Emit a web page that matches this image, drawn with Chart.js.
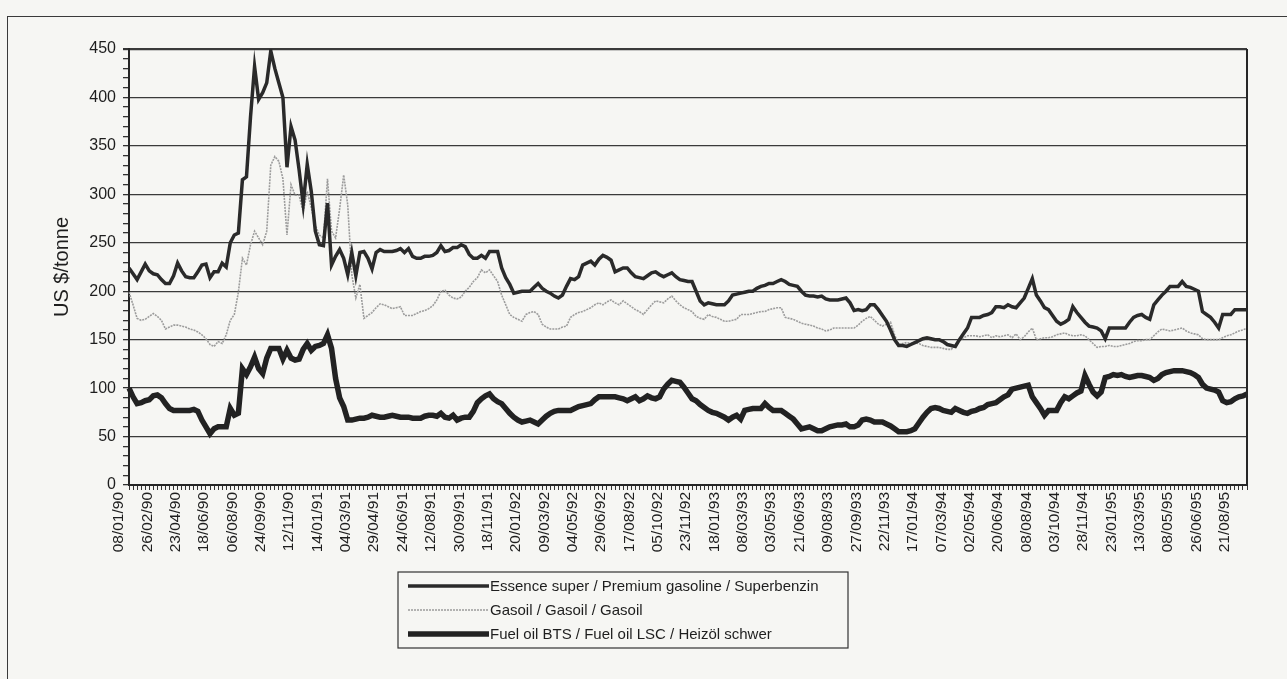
<!DOCTYPE html>
<html><head><meta charset="utf-8">
<script src="https://cdn.jsdelivr.net/npm/chart.js@4.4.1/dist/chart.umd.min.js"></script>
<style>
html,body{margin:0;padding:0;background:#f6f6f3;}
#wrap{position:relative;width:1287px;height:679px;overflow:hidden;}
#frame{position:absolute;left:7px;top:16px;width:1400px;height:800px;border-left:1.5px solid #3a3a3a;border-top:1.5px solid #3a3a3a;}
canvas{position:absolute;left:0;top:0;}
</style></head><body>
<div id="wrap"><div id="frame"></div><canvas id="c" width="1287" height="679"></canvas></div>
<script>
const tickLabels = ["08/01/90","26/02/90","23/04/90","18/06/90","06/08/90","24/09/90","12/11/90","14/01/91","04/03/91","29/04/91","24/06/91","12/08/91","30/09/91","18/11/91","20/01/92","09/03/92","04/05/92","29/06/92","17/08/92","05/10/92","23/11/92","18/01/93","08/03/93","03/05/93","21/06/93","09/08/93","27/09/93","22/11/93","17/01/94","07/03/94","02/05/94","20/06/94","08/08/94","03/10/94","28/11/94","23/01/95","13/03/95","08/05/95","26/06/95","21/08/95"];
const seriesNames = ["Essence super / Premium gasoline / Superbenzin","Gasoil / Gasoil / Gasoil","Fuel oil BTS / Fuel oil LSC / Heizöl schwer"];
const essence = [
224,218,212,220,228,221,218,217,212,208,
208,216,229,221,215,214,214,220,227,228,
214,220,220,229,225,250,258,260,315,318,
380,432,398,405,415,448,430,415,400,328,
370,356,325,290,331,303,262,248,247,291,
227,236,243,234,217,240,216,240,241,234,
223,240,243,241,241,241,242,244,240,244,
236,234,234,236,236,237,240,247,241,242,
245,245,248,246,238,234,234,237,234,241,
241,241,224,214,207,198,199,200,200,200,
204,208,203,200,198,195,193,196,205,213,
212,215,227,229,231,227,233,237,235,232,
220,222,224,224,219,215,214,213,216,219,
220,217,215,217,219,215,212,211,210,210,
200,190,186,188,187,186,186,186,190,196,
197,198,199,200,200,203,205,206,208,208,
210,212,210,207,206,205,200,196,195,195,
194,195,192,191,191,191,192,193,188,180,
181,180,181,186,186,181,175,169,160,150,
144,144,143,145,147,149,151,152,151,150,
150,148,145,144,143,150,156,162,173,173,
173,175,176,178,184,184,183,186,184,183,
188,193,203,213,196,190,183,181,175,169,
166,168,171,184,178,173,168,164,163,162,
159,151,162,162,162,162,162,168,173,175,
176,173,171,186,191,196,200,205,205,205,
210,205,204,202,200,179,176,173,168,162,
176,176,176,181,181,181,181];
const gasoil = [
199,186,172,170,171,174,177,174,170,161,
163,165,165,164,163,161,160,158,155,151,
145,143,148,146,155,170,176,199,234,227,
248,262,255,248,262,330,339,334,316,258,
310,299,299,282,303,286,268,258,255,316,
262,255,285,320,289,217,193,207,172,175,
178,183,187,186,184,182,183,184,175,175,
175,177,179,180,182,185,191,200,201,196,
193,192,194,200,204,210,214,222,219,222,
216,210,196,186,176,173,171,169,176,178,
179,176,166,163,161,161,161,163,164,173,
176,178,179,181,183,186,188,186,189,191,
188,186,190,187,184,181,179,176,181,186,
190,189,188,192,195,190,186,183,181,179,
174,172,171,176,174,173,171,169,169,170,
171,176,176,176,177,178,179,179,181,182,
183,183,173,172,171,169,167,166,165,164,
162,161,159,160,162,162,162,162,162,162,
165,169,172,174,170,166,164,166,168,155,
145,146,147,146,147,146,144,143,142,142,
142,141,140,140,145,149,152,154,154,154,
153,154,155,152,154,153,154,155,152,156,
150,153,158,162,150,151,152,152,153,155,
156,157,155,154,154,155,154,150,146,142,
143,143,144,143,143,144,145,146,148,149,
149,150,150,154,158,161,160,159,160,161,
162,159,157,156,155,151,150,150,150,150,
152,154,155,157,159,160,162];
const fuelOil = [
100,91,84,85,87,88,92,93,90,84,
79,77,77,77,77,77,78,76,67,60,
53,58,60,60,60,79,72,74,120,114,
122,132,120,115,131,141,141,141,130,139,
131,129,130,140,146,139,143,144,146,155,
141,110,90,81,67,67,68,69,69,70,
72,71,70,70,71,72,71,70,70,70,
69,69,69,71,72,72,71,74,70,69,
72,67,69,70,70,76,85,89,92,94,
89,86,84,79,74,70,67,65,66,67,
65,63,67,71,74,76,77,77,77,77,
79,81,82,83,84,88,91,91,91,91,
91,90,89,87,89,91,87,89,92,90,
89,91,99,104,108,107,106,101,95,89,
87,83,80,77,75,74,72,70,67,70,
72,68,77,78,79,79,79,84,80,77,
77,77,74,71,68,63,58,59,60,58,
56,56,58,60,61,62,62,63,60,60,
62,67,68,67,65,65,65,63,61,58,
55,55,55,56,58,64,70,75,79,80,
79,77,76,75,79,77,75,74,76,77,
79,80,83,84,85,88,91,93,99,100,
101,102,103,91,85,79,72,77,77,77,
85,91,89,92,95,97,113,104,96,92,
96,111,112,114,113,114,112,111,112,113,
113,112,111,108,110,114,116,117,118,118,
118,117,116,114,111,104,100,99,98,96,
87,85,86,89,91,92,94];
const labelEvery = 7;
const categories = essence.map((_, i) => (i % labelEvery === 0 && tickLabels[i / labelEvery]) ? tickLabels[i / labelEvery] : "");

const FONT = "'Liberation Sans', Arial, sans-serif";
const INK = '#262626';

const plotFrame = {
  id: 'plotFrame',
  afterDatasetsDraw(chart) {
    const {ctx, chartArea: a} = chart;
    ctx.save();
    ctx.strokeStyle = INK; ctx.lineWidth = 2;
    ctx.beginPath(); ctx.moveTo(a.right, a.top); ctx.lineTo(a.right, a.bottom); ctx.stroke();
    ctx.restore();
  }
};
const boxLegend = {
  id: 'boxLegend',
  afterDraw(chart) {
    const {ctx} = chart;
    const bx = 398, by = 572, bw = 450, bh = 76;
    ctx.save();
    ctx.fillStyle = '#f6f6f3';
    ctx.fillRect(bx, by, bw, bh);
    ctx.strokeStyle = '#333'; ctx.lineWidth = 1.2;
    ctx.strokeRect(bx, by, bw, bh);
    ctx.font = '15px ' + FONT; ctx.fillStyle = '#1e1e1e'; ctx.textBaseline = 'middle';
    chart.data.datasets.forEach((ds, k) => {
      const y = by + 14 + k * 24;
      ctx.strokeStyle = ds.borderColor; ctx.lineWidth = ds.borderWidth;
      ctx.setLineDash(ds.borderDash || []);
      ctx.beginPath(); ctx.moveTo(bx + 10, y); ctx.lineTo(bx + 91, y); ctx.stroke();
      ctx.setLineDash([]);
      ctx.fillText(ds.label, bx + 92, y + 1);
    });
    ctx.restore();
  }
};

new Chart(document.getElementById('c'), {
  type: 'line',
  data: {
    labels: categories,
    datasets: [
      {label: seriesNames[0], data: essence, borderColor: '#2a2a2a', borderWidth: 3.5, pointRadius: 0, tension: 0},
      {label: seriesNames[1], data: gasoil, borderColor: '#9c9c9c', borderWidth: 1.6, borderDash: [2, 1], pointRadius: 0, tension: 0},
      {label: seriesNames[2], data: fuelOil, borderColor: '#222222', borderWidth: 5.5, pointRadius: 0, tension: 0}
    ]
  },
  options: {
    responsive: false, animation: false,
    layout: {padding: {left: 0, right: 40, top: 49, bottom: 114}},
    plugins: {legend: {display: false}, tooltip: {enabled: false}},
    scales: {
      x: {
        grid: {drawOnChartArea: false, color: '#333', tickLength: 5, lineWidth: 1},
        border: {color: INK, width: 2},
        ticks: {autoSkip: false, minRotation: 90, maxRotation: 90, labelOffset: -10, padding: 2,
                color: '#1e1e1e', font: {family: FONT, size: 15.5}},
        afterFit(s) { s.height = 80; }
      },
      y: {
        min: 0, max: 450,
        ticks: {stepSize: 10, autoSkip: false, maxTicksLimit: 100, padding: 7, color: '#1e1e1e', font: {family: FONT, size: 16},
                callback: v => (v % 50 === 0 ? v : '')},
        grid: {
          color: c => (c.tick && c.tick.value % 50 === 0 && c.tick.value > 0) ? '#3a3a3a' : 'rgba(0,0,0,0)',
          lineWidth: c => (c.tick && c.tick.value === 450) ? 2.2 : 1.3,
          tickColor: '#333', tickLength: 6
        },
        border: {color: INK, width: 2},
        title: {display: true, text: 'US $/tonne', color: '#1e1e1e', font: {family: FONT, size: 20}, padding: {top: 50, bottom: 0}},
        afterFit(s) { s.width = 129; }
      }
    }
  },
  plugins: [plotFrame, boxLegend]
});
</script>
</body></html>
